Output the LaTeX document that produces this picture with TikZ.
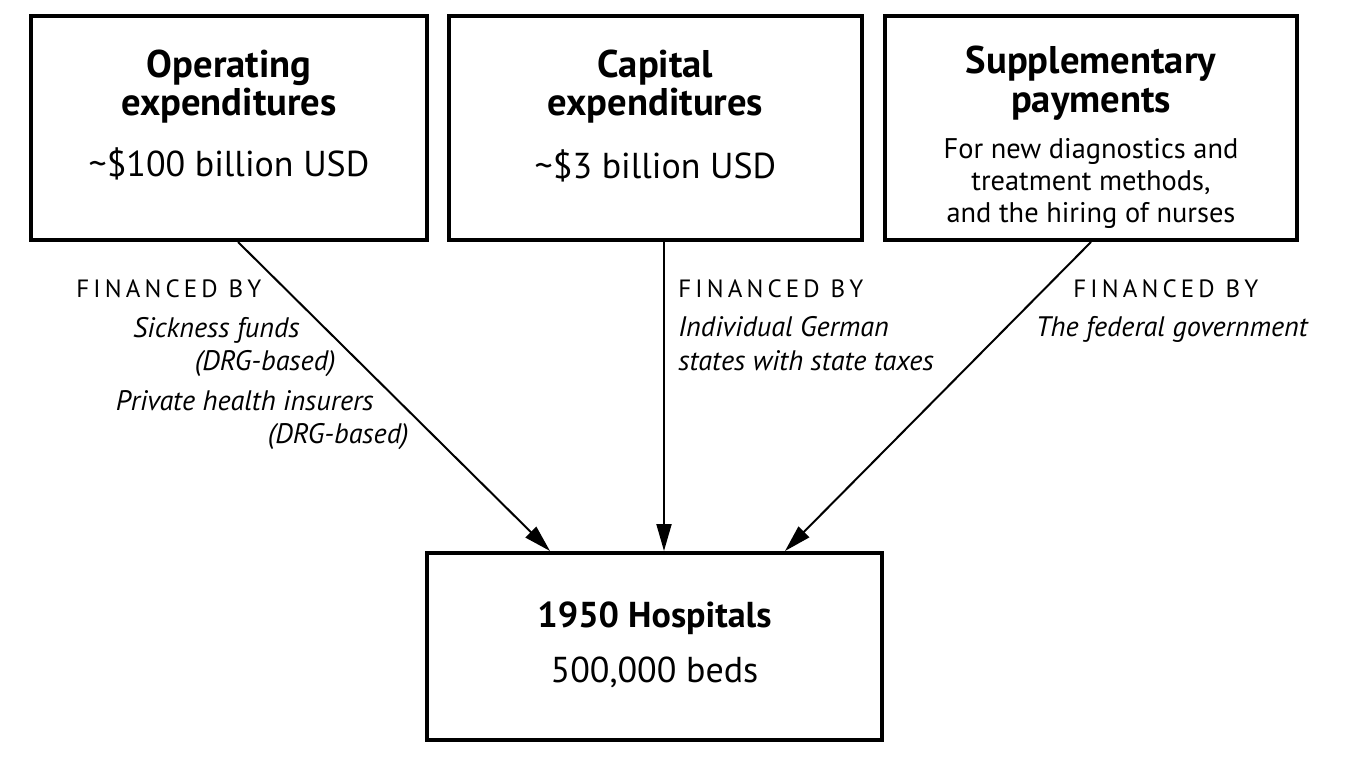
\documentclass[tikz,border=0pt]{standalone}
\usepackage{fontspec}
\setmainfont{PT Sans}
\usetikzlibrary{arrows.meta,calc}
\begin{document}
\begin{tikzpicture}[x=0.5pt,y=-0.5pt,
  box/.style={draw,line width=2pt,inner sep=0pt},
  title/.style={anchor=base,inner sep=0pt,font=\fontsize{19.3}{21}\selectfont\bfseries},
  htitle/.style={anchor=base,inner sep=0pt,font=\fontsize{18}{20}\selectfont\bfseries},
  amount/.style={anchor=base,inner sep=0pt,font=\fontsize{18}{20}\selectfont},
  desc/.style={anchor=base,inner sep=0pt,font=\fontsize{14.2}{16}\selectfont},
  finby/.style={inner sep=0pt,font=\fontsize{12.5}{15}\selectfont\addfontfeatures{LetterSpace=16.5}},
  src/.style={inner sep=0pt,font=\fontsize{14.1}{16}\selectfont\itshape},
  arr/.style={line width=1pt,-{Triangle[length=13.5pt,width=7.5pt]}}]
\useasboundingbox (0,0) rectangle (1350,771);
% boxes
\node[box,minimum width=198pt,minimum height=112pt] (op) at (229,128) {};
\node[box,minimum width=206.5pt,minimum height=112pt] (cap) at (655.5,128) {};
\node[box,minimum width=206pt,minimum height=112pt] (sup) at (1091,128) {};
\node[box,minimum width=227.5pt,minimum height=93.5pt] (hosp) at (654.5,646.5) {};
% box texts
\node[title] (op1) at (229,77) {Operating};
\node[title] (op2) at (229,115) {expenditures};
\node[amount] (op3) at (229,176) {\textasciitilde\$100 billion USD};
\node[title] (cap1) at (655.5,77) {Capital};
\node[title] (cap2) at (655.5,115) {expenditures};
\node[amount] (cap3) at (655.5,178) {\textasciitilde\$3 billion USD};
\node[title] (sup1) at (1091,73) {Supplementary};
\node[title] (sup2) at (1091,112) {payments};
\node[desc] (sup3) at (1091,158) {For new diagnostics and};
\node[desc] (sup4) at (1091,190) {treatment methods,};
\node[desc] (sup5) at (1091,222) {and the hiring of nurses};
\node[htitle] (h1) at (654.5,627) {1950 Hospitals};
\node[amount] (h2) at (654.5,682) {500,000 beds};
% financed by labels
\node[finby,anchor=base west] (f1) at (76,297) {FINANCED BY};
\node[finby,anchor=base west] (f2) at (678,297) {FINANCED BY};
\node[finby,anchor=base west] (f3) at (1073,297) {FINANCED BY};
\node[src,anchor=base east] (s1) at (300,337) {Sickness funds};
\node[src,anchor=base east] (s2) at (336,370) {(DRG-based)};
\node[src,anchor=base east] (s3) at (374,410) {Private health insurers};
\node[src,anchor=base east] (s4) at (409,443) {(DRG-based)};
\node[src,anchor=base west] (m1) at (678,336) {Individual German};
\node[src,anchor=base west] (m2) at (678,370) {states with state taxes};
\node[src,anchor=base east] (r1) at (1308,336) {The federal government};
% arrows
\draw[arr] ($(op.south)+(9,0)$) -- ($(hosp.north)+(-104.5,0)$);
\draw[arr] ($(cap.south)+(8.5,0)$) -- ($(hosp.north)+(9.5,0)$);
\draw[arr] (sup.south) -- ($(hosp.north)+(130.5,0)$);
\end{tikzpicture}
\end{document}
